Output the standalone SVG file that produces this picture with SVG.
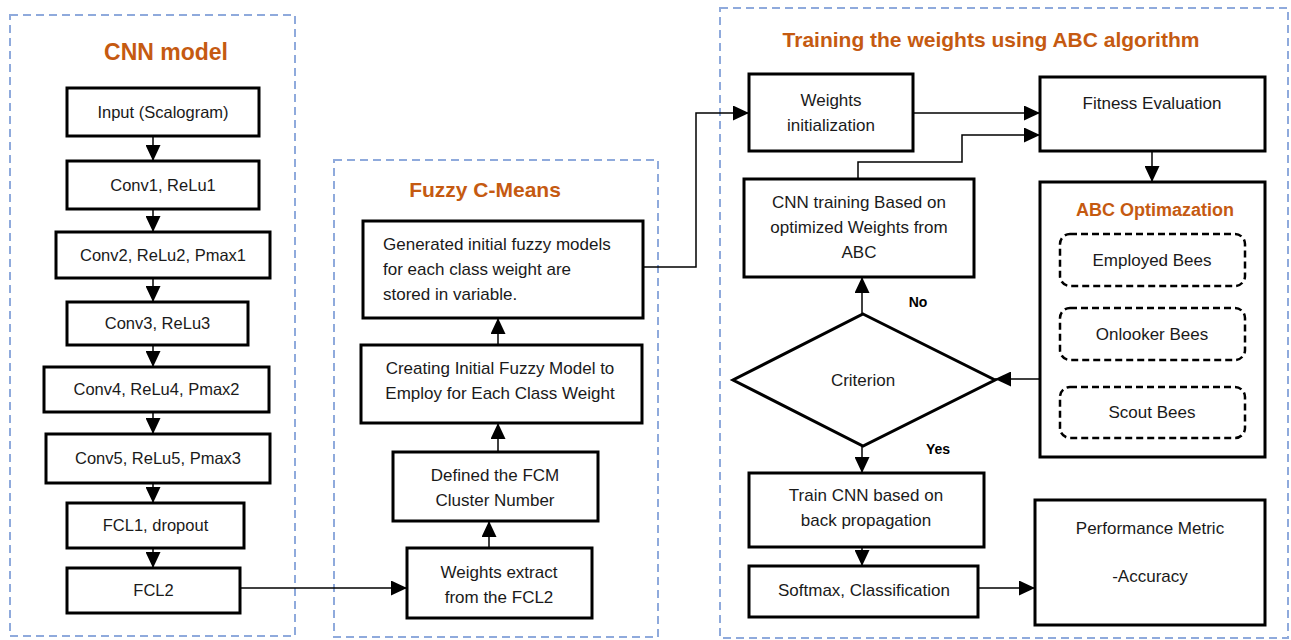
<svg xmlns="http://www.w3.org/2000/svg" width="1291" height="640" viewBox="0 0 1291 640">
<defs>
<style>
.panel{fill:none;stroke:#8FAADC;stroke-width:2;stroke-dasharray:8 5}
.box{fill:#fff;stroke:#000;stroke-width:3}
.bee{fill:#fff;stroke:#000;stroke-width:2.5;stroke-dasharray:7 4}
.t{font-family:"Liberation Sans",Arial,sans-serif;font-size:17px;fill:#1a1a1a;text-anchor:middle}
.tl{font-size:16.5px}
.title{font-family:"Liberation Sans",Arial,sans-serif;font-weight:bold;fill:#C55A11;text-anchor:middle}
.lab{font-family:"Liberation Sans",Arial,sans-serif;font-weight:bold;font-size:14px;fill:#000;text-anchor:middle}
.c{fill:none;stroke:#000;stroke-width:1.5}
</style>
<marker id="ah" markerUnits="userSpaceOnUse" markerWidth="16" markerHeight="15" viewBox="0 0 16 15" refX="16" refY="7.5" orient="auto">
<path d="M0,0 L16,7.5 L0,15 z" fill="#000"/>
</marker>
</defs>
<rect width="1291" height="640" fill="#fff"/>

<g id="panels">
<rect class="panel" x="10" y="15" width="285" height="621"/>
<rect class="panel" x="334" y="160" width="324" height="477"/>
<rect class="panel" x="720" y="8" width="568" height="630"/>
<text class="title" x="166" y="60" font-size="23">CNN model</text>
<text class="title" x="485" y="197" font-size="21">Fuzzy C-Means</text>
<text class="title" x="991" y="47" font-size="21">Training the weights using ABC algorithm</text>
</g>

<g id="connectors">
<line class="c" x1="153" y1="136" x2="153" y2="161" marker-end="url(#ah)"/>
<line class="c" x1="153" y1="209" x2="153" y2="232" marker-end="url(#ah)"/>
<line class="c" x1="153" y1="278" x2="153" y2="302" marker-end="url(#ah)"/>
<line class="c" x1="153" y1="345" x2="153" y2="367" marker-end="url(#ah)"/>
<line class="c" x1="153" y1="412" x2="153" y2="434" marker-end="url(#ah)"/>
<line class="c" x1="153" y1="483" x2="153" y2="503" marker-end="url(#ah)"/>
<line class="c" x1="153" y1="548" x2="153" y2="568" marker-end="url(#ah)"/>
<line class="c" x1="240" y1="588" x2="407" y2="588" marker-end="url(#ah)"/>
<line class="c" x1="489" y1="548" x2="489" y2="521" marker-end="url(#ah)"/>
<line class="c" x1="498" y1="452" x2="498" y2="423" marker-end="url(#ah)"/>
<line class="c" x1="498" y1="345" x2="498" y2="318" marker-end="url(#ah)"/>
<polyline class="c" points="643,267 696,267 696,113 749,113" marker-end="url(#ah)"/>
<line class="c" x1="913" y1="113" x2="1040" y2="113" marker-end="url(#ah)"/>
<polyline class="c" points="858,179 858,162 962,162 962,135 1040,135" marker-end="url(#ah)"/>
<line class="c" x1="1152" y1="151" x2="1152" y2="182" marker-end="url(#ah)"/>
<line class="c" x1="1040" y1="379" x2="995" y2="379" marker-end="url(#ah)"/>
<line class="c" x1="862" y1="314" x2="862" y2="277" marker-end="url(#ah)"/>
<line class="c" x1="862" y1="446" x2="862" y2="473" marker-end="url(#ah)"/>
<line class="c" x1="862" y1="547" x2="862" y2="566" marker-end="url(#ah)"/>
<line class="c" x1="978" y1="588" x2="1035" y2="588" marker-end="url(#ah)"/>
<text class="lab" x="918" y="307">No</text>
<text class="lab" x="938" y="454">Yes</text>
</g>

<g id="input"><rect class="box" x="67" y="88" width="192" height="48"/><text class="t tl" x="163" y="118">Input (Scalogram)</text></g>
<g id="conv1"><rect class="box" x="67" y="161" width="192" height="48"/><text class="t tl" x="163" y="191">Conv1, ReLu1</text></g>
<g id="conv2"><rect class="box" x="56" y="232" width="214" height="46"/><text class="t tl" x="163" y="261">Conv2, ReLu2, Pmax1</text></g>
<g id="conv3"><rect class="box" x="67" y="302" width="181" height="43"/><text class="t tl" x="157.5" y="329">Conv3, ReLu3</text></g>
<g id="conv4"><rect class="box" x="44" y="367" width="225" height="45"/><text class="t tl" x="156.5" y="395">Conv4, ReLu4, Pmax2</text></g>
<g id="conv5"><rect class="box" x="46" y="434" width="224" height="49"/><text class="t tl" x="158" y="464">Conv5, ReLu5, Pmax3</text></g>
<g id="fcl1"><rect class="box" x="67" y="503" width="177" height="45"/><text class="t tl" x="155.5" y="531">FCL1, dropout</text></g>
<g id="fcl2"><rect class="box" x="67" y="568" width="173" height="45"/><text class="t tl" x="153.5" y="596">FCL2</text></g>

<g id="generated"><rect class="box" x="363" y="221" width="280" height="97"/>
<text class="t" style="text-anchor:start" x="383" y="250">Generated initial fuzzy models</text>
<text class="t" style="text-anchor:start" x="383" y="275">for each class weight are</text>
<text class="t" style="text-anchor:start" x="383" y="300">stored in variable.</text></g>
<g id="creating"><rect class="box" x="361" y="345" width="281" height="78"/>
<text class="t" x="500" y="374">Creating Initial Fuzzy Model to</text>
<text class="t" x="500" y="399">Employ for Each Class Weight</text></g>
<g id="defined"><rect class="box" x="393" y="452" width="205" height="69"/>
<text class="t" x="495" y="481">Defined the FCM</text>
<text class="t" x="495" y="506">Cluster Number</text></g>
<g id="extract"><rect class="box" x="407" y="548" width="185" height="70"/>
<text class="t" x="499" y="578">Weights extract</text>
<text class="t" x="499" y="603">from the FCL2</text></g>

<g id="winit"><rect class="box" x="749" y="74" width="164" height="77"/>
<text class="t" x="831" y="106">Weights</text>
<text class="t" x="831" y="131">initialization</text></g>
<g id="fitness"><rect class="box" x="1040" y="77" width="225" height="74"/>
<text class="t" x="1152" y="109">Fitness Evaluation</text></g>
<g id="cnntrain"><rect class="box" x="744" y="179" width="230" height="98"/>
<text class="t" x="859" y="208">CNN training Based on</text>
<text class="t" x="859" y="233">optimized Weights from</text>
<text class="t" x="859" y="258">ABC</text></g>
<g id="abc"><rect class="box" x="1040" y="182" width="225" height="275"/>
<text class="title" x="1155" y="216" font-size="18">ABC Optimazation</text>
<rect class="bee" x="1060" y="234" width="185" height="52" rx="10"/>
<text class="t" x="1152" y="266">Employed Bees</text>
<rect class="bee" x="1060" y="308" width="185" height="52" rx="10"/>
<text class="t" x="1152" y="340">Onlooker Bees</text>
<rect class="bee" x="1060" y="387" width="185" height="51" rx="10"/>
<text class="t" x="1152" y="418">Scout Bees</text></g>
<g id="criterion"><polygon class="box" points="863,314 995,380 863,446 733,380"/>
<text class="t" x="863" y="386">Criterion</text></g>
<g id="traincnn"><rect class="box" x="749" y="473" width="235" height="74"/>
<text class="t" x="866" y="501">Train CNN based on</text>
<text class="t" x="866" y="526">back propagation</text></g>
<g id="softmax"><rect class="box" x="749" y="566" width="229" height="51"/>
<text class="t" x="864" y="596">Softmax, Classification</text></g>
<g id="perf"><rect class="box" x="1035" y="500" width="230" height="125"/>
<text class="t" x="1150" y="534">Performance Metric</text>
<text class="t" x="1150" y="582">-Accuracy</text></g>
</svg>
